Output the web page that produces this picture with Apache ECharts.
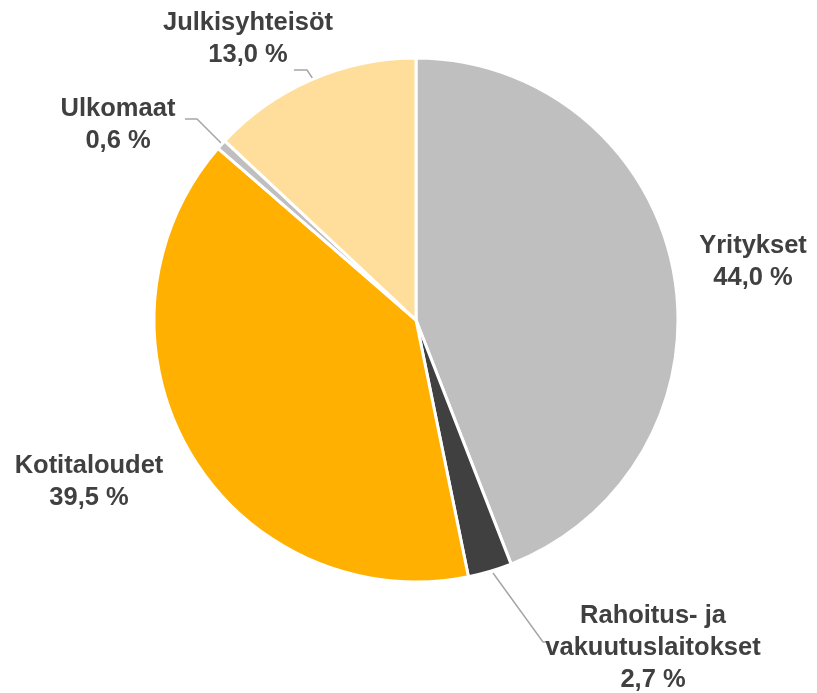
<!DOCTYPE html>
<html><head><meta charset="utf-8">
<script src="https://cdn.jsdelivr.net/npm/echarts@6/dist/echarts.min.js"></script>
<style>html,body{margin:0;padding:0;background:#fff}#c{width:817px;height:693px}</style>
</head><body><div id="c"></div>
<script>
var categories = ['Yritykset', 'Rahoitus- ja\nvakuutuslaitokset', 'Kotitaloudet', 'Ulkomaat', 'Julkisyhteisöt'];
var values = [44.0, 2.7, 39.5, 0.6, 13.0];
var colors = ['#BFBFBF', '#404040', '#FFB000', '#BFBFBF', '#FFDE9B'];

var labelPos = [
  {x: 753, y: 262},
  {x: 653, y: 648, line: [[493, 573], [543, 642], [548, 642]]},
  {x: 89, y: 482},
  {x: 118, y: 125, line: [[222, 144], [197, 119], [185, 119]]},
  {x: 248, y: 39, line: [[313, 79], [307, 70], [294, 70]]}
];

var chart = echarts.init(document.getElementById('c'));
chart.setOption({
  animation: false,
  series: [{
    type: 'pie',
    center: [416, 320],
    radius: 262,
    startAngle: 90,
    clockwise: true,
    avoidLabelOverlap: false,
    itemStyle: {borderColor: '#fff', borderWidth: 3},
    label: {
      show: true,
      fontFamily: 'Liberation Sans, Arial, sans-serif',
      fontWeight: 'bold',
      fontSize: 25.5,
      lineHeight: 32,
      color: '#404040',
      align: 'center',
      formatter: function (p) { return p.name + '\n' + p.value.toFixed(1).replace('.', ',') + ' %'; }
    },
    labelLine: {show: true, lineStyle: {color: '#A6A6A6', width: 1.5}},
    labelLayout: function (p) {
      var lp = labelPos[p.dataIndex];
      var r = {x: lp.x, y: lp.y, align: 'center', verticalAlign: 'middle'};
      if (lp.line) r.labelLinePoints = lp.line;
      return r;
    },
    data: categories.map(function (c, i) {
      return {
        name: c, value: values[i],
        itemStyle: {color: colors[i]},
        labelLine: {show: !!labelPos[i].line}
      };
    })
  }]
});
</script></body></html>
